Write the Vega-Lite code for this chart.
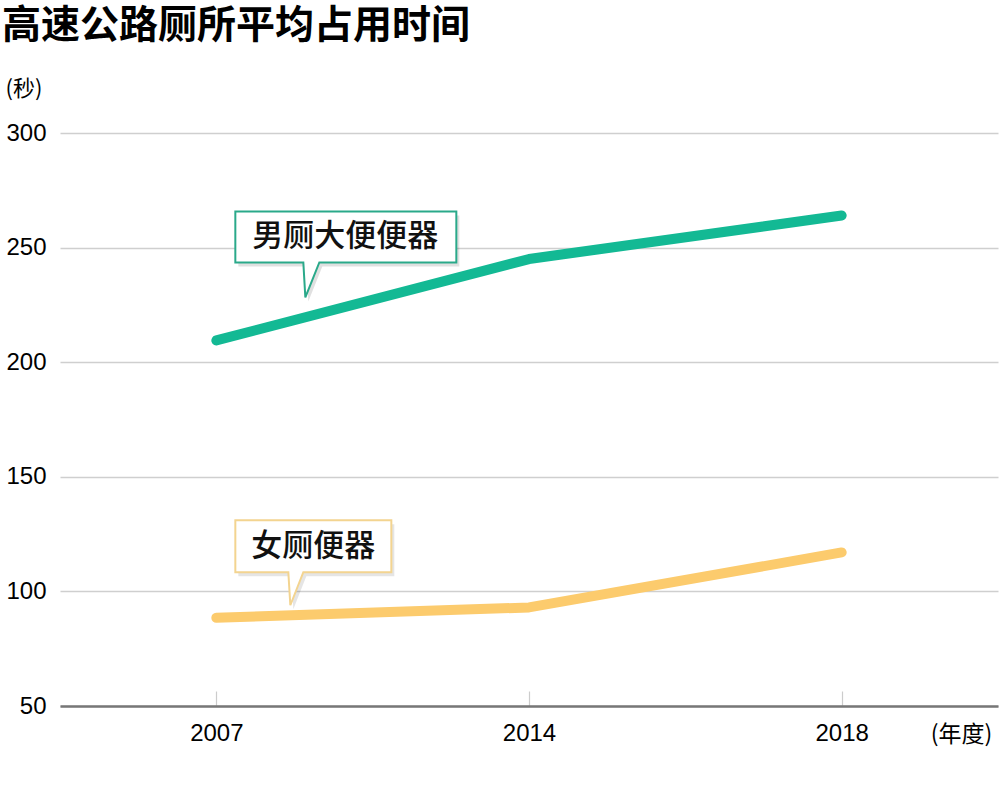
{
  "$schema": "https://vega.github.io/schema/vega-lite/v6.json",
  "description": "高速公路厕所平均占用时间",
  "autosize": "none",
  "width": 938,
  "height": 573,
  "padding": {"left": 60, "top": 133, "right": 2, "bottom": 104},
  "background": "white",
  "title": {
    "text": "高速公路厕所平均占用时间",
    "anchor": "start",
    "frame": "group",
    "dx": -58,
    "offset": 31,
    "font": "Noto Sans CJK SC",
    "fontSize": 39,
    "fontWeight": "bold",
    "color": "#000"
  },
  "data": {
    "values": [
      {"series": "男厕大便便器", "year": 2007, "seconds": 209.5},
      {"series": "男厕大便便器", "year": 2014, "seconds": 245},
      {"series": "男厕大便便器", "year": 2018, "seconds": 264},
      {"series": "女厕便器", "year": 2007, "seconds": 88.5},
      {"series": "女厕便器", "year": 2014, "seconds": 93},
      {"series": "女厕便器", "year": 2018, "seconds": 117}
    ]
  },
  "encoding": {
    "x": {
      "field": "year",
      "type": "ordinal",
      "scale": {"type": "point", "padding": 0.5},
      "axis": {
        "title": "(年度)",
        "titleX": 901,
        "titleY": 28,
        "titleAlign": "center",
        "titleBaseline": "middle",
        "titleFont": "Noto Sans CJK SC",
        "titleFontSize": 23,
        "titleFontWeight": "normal",
        "titleColor": "#000",
        "labelAngle": 0,
        "labelFont": "Liberation Sans",
        "labelFontSize": 24,
        "labelColor": "#000",
        "labelPadding": 42,
        "labelBaseline": "middle",
        "domainColor": "#777",
        "domainWidth": 2.5,
        "tickColor": "#ccc",
        "tickWidth": 1.2,
        "tickSize": -15,
        "grid": false
      }
    },
    "y": {
      "field": "seconds",
      "type": "quantitative",
      "scale": {"domain": [50, 300], "nice": false, "zero": false},
      "axis": {
        "values": [50, 100, 150, 200, 250, 300],
        "title": "(秒)",
        "titleAngle": 0,
        "titleAlign": "left",
        "titleBaseline": "middle",
        "titleX": -55,
        "titleY": -45,
        "titleFont": "Noto Sans CJK SC",
        "titleFontSize": 22,
        "titleFontWeight": "normal",
        "titleColor": "#000",
        "labelFont": "Liberation Sans",
        "labelFontSize": 24,
        "labelColor": "#000",
        "labelPadding": 14,
        "domain": false,
        "ticks": false,
        "grid": true,
        "gridColor": "#cfcfcf",
        "gridWidth": 1.5
      }
    }
  },
  "layer": [
    {
      "mark": {"type": "line", "strokeWidth": 10, "strokeCap": "round", "strokeJoin": "round"},
      "encoding": {
        "color": {
          "field": "series",
          "type": "nominal",
          "scale": {"domain": ["男厕大便便器", "女厕便器"], "range": ["#13b994", "#fccb6d"]},
          "legend": null
        }
      }
    },
    {
      "transform": [{"filter": "datum.year == 2007 && datum.series == '男厕大便便器'"}],
      "mark": {
        "type": "point",
        "shape": "M22,-125 H243 V-74 H106 L92,-39 L90,-74 H22 Z",
        "size": 4,
        "filled": true,
        "fill": "#000",
        "opacity": 0.12,
        "strokeWidth": 0
      }
    },
    {
      "transform": [{"filter": "datum.year == 2007 && datum.series == '男厕大便便器'"}],
      "mark": {
        "type": "point",
        "shape": "M19,-129 H240 V-78 H103 L89,-43 L87,-78 H19 Z",
        "size": 4,
        "filled": true,
        "fill": "#fff",
        "stroke": "#2aa98a",
        "strokeWidth": 2,
        "opacity": 1
      }
    },
    {
      "transform": [{"filter": "datum.year == 2007 && datum.series == '男厕大便便器'"}],
      "mark": {
        "type": "text",
        "dx": 129,
        "dy": -103,
        "align": "center",
        "baseline": "middle",
        "font": "Noto Sans CJK SC",
        "fontSize": 31,
        "fontWeight": 500,
        "color": "#111"
      },
      "encoding": {"text": {"field": "series"}}
    },
    {
      "transform": [{"filter": "datum.year == 2007 && datum.series == '女厕便器'"}],
      "mark": {
        "type": "point",
        "shape": "M22,-93.5 H178 V-41.5 H90 L77,-8.5 L75,-41.5 H22 Z",
        "size": 4,
        "filled": true,
        "fill": "#000",
        "opacity": 0.1,
        "strokeWidth": 0
      }
    },
    {
      "transform": [{"filter": "datum.year == 2007 && datum.series == '女厕便器'"}],
      "mark": {
        "type": "point",
        "shape": "M19,-97.5 H175 V-45.5 H87 L74,-12.5 L72,-45.5 H19 Z",
        "size": 4,
        "filled": true,
        "fill": "#fff",
        "stroke": "#f3d490",
        "strokeWidth": 2,
        "opacity": 1
      }
    },
    {
      "transform": [{"filter": "datum.year == 2007 && datum.series == '女厕便器'"}],
      "mark": {
        "type": "text",
        "dx": 97,
        "dy": -71,
        "align": "center",
        "baseline": "middle",
        "font": "Noto Sans CJK SC",
        "fontSize": 31,
        "fontWeight": 500,
        "color": "#111"
      },
      "encoding": {"text": {"field": "series"}}
    }
  ],
  "config": {
    "view": {"stroke": null}
  }
}
